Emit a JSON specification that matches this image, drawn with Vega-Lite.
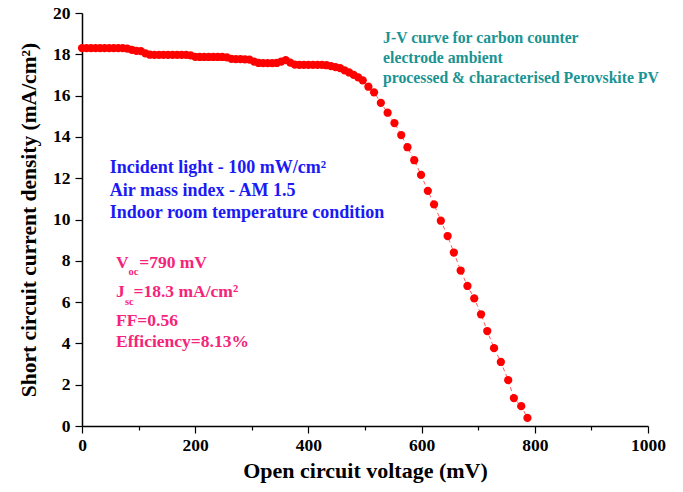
{
  "$schema": "https://vega.github.io/schema/vega-lite/v6.json",
  "autosize": {"type": "none"},
  "padding": {"left": 82, "top": 13, "right": 35, "bottom": 66},
  "width": 566,
  "height": 413,
  "background": "white",
  "config": {
    "view": {"stroke": null},
    "font": "Liberation Serif"
  },
  "datasets": {
    "jv": [
      {"v": 0, "j": 18.3}, {"v": 8, "j": 18.3}, {"v": 16, "j": 18.3}, {"v": 24, "j": 18.3},
      {"v": 32, "j": 18.3}, {"v": 40, "j": 18.3}, {"v": 48, "j": 18.3}, {"v": 56, "j": 18.3},
      {"v": 64, "j": 18.3}, {"v": 72, "j": 18.3}, {"v": 80, "j": 18.28}, {"v": 88, "j": 18.22},
      {"v": 96, "j": 18.17}, {"v": 104, "j": 18.15}, {"v": 112, "j": 18.05}, {"v": 120, "j": 17.98},
      {"v": 128, "j": 17.97}, {"v": 136, "j": 17.97}, {"v": 144, "j": 17.97}, {"v": 152, "j": 17.97},
      {"v": 160, "j": 17.97}, {"v": 168, "j": 17.97}, {"v": 176, "j": 17.97}, {"v": 184, "j": 17.97},
      {"v": 192, "j": 17.95}, {"v": 200, "j": 17.88}, {"v": 208, "j": 17.87}, {"v": 216, "j": 17.87},
      {"v": 224, "j": 17.87}, {"v": 232, "j": 17.87}, {"v": 240, "j": 17.87}, {"v": 248, "j": 17.87},
      {"v": 256, "j": 17.85}, {"v": 264, "j": 17.78}, {"v": 272, "j": 17.77}, {"v": 280, "j": 17.77},
      {"v": 288, "j": 17.76}, {"v": 296, "j": 17.74}, {"v": 304, "j": 17.65}, {"v": 312, "j": 17.58},
      {"v": 320, "j": 17.57}, {"v": 328, "j": 17.57}, {"v": 336, "j": 17.57}, {"v": 344, "j": 17.58},
      {"v": 352, "j": 17.65}, {"v": 360, "j": 17.72}, {"v": 368, "j": 17.6}, {"v": 376, "j": 17.5},
      {"v": 384, "j": 17.49}, {"v": 392, "j": 17.49}, {"v": 400, "j": 17.49}, {"v": 408, "j": 17.49},
      {"v": 416, "j": 17.49}, {"v": 424, "j": 17.49}, {"v": 432, "j": 17.47}, {"v": 440, "j": 17.43},
      {"v": 448, "j": 17.38}, {"v": 456, "j": 17.33}, {"v": 464, "j": 17.22}, {"v": 472, "j": 17.12},
      {"v": 480, "j": 17.0}, {"v": 488, "j": 16.88}, {"v": 496, "j": 16.74}, {"v": 506, "j": 16.43},
      {"v": 516, "j": 16.16}, {"v": 528, "j": 15.65}, {"v": 540, "j": 15.17}, {"v": 552, "j": 14.67},
      {"v": 564, "j": 14.09}, {"v": 575, "j": 13.5}, {"v": 587, "j": 12.87}, {"v": 599, "j": 12.16},
      {"v": 611, "j": 11.39}, {"v": 622, "j": 10.73}, {"v": 634, "j": 9.94}, {"v": 646, "j": 9.2},
      {"v": 657, "j": 8.4}, {"v": 669, "j": 7.53}, {"v": 681, "j": 6.78}, {"v": 693, "j": 6.18},
      {"v": 705, "j": 5.41}, {"v": 716, "j": 4.6}, {"v": 728, "j": 3.77}, {"v": 740, "j": 3.1},
      {"v": 753, "j": 2.22}, {"v": 763, "j": 1.35}, {"v": 776, "j": 0.96}, {"v": 787, "j": 0.39}
    ],
    "teal": [
      {"x": 532, "y": 18.8, "t": "J-V curve for carbon counter"},
      {"x": 532, "y": 17.8, "t": "electrode ambient"},
      {"x": 532, "y": 16.87, "t": "processed & characterised Perovskite PV"}
    ],
    "blue": [
      {"x": 49, "y": 12.5, "t": "Incident light - 100 mW/cm²"},
      {"x": 49, "y": 11.4, "t": "Air mass index - AM 1.5"},
      {"x": 49, "y": 10.3, "t": "Indoor room temperature condition"}
    ],
    "pink": [
      {"x": 60, "y": 7.9, "t": "V"},
      {"x": 101, "y": 7.9, "t": "=790 mV"},
      {"x": 60, "y": 6.5, "t": "J"},
      {"x": 91, "y": 6.5, "t": "=18.3 mA/cm²"},
      {"x": 60, "y": 5.1, "t": "FF=0.56"},
      {"x": 60, "y": 4.05, "t": "Efficiency=8.13%"}
    ],
    "pinksub": [
      {"x": 82, "y": 7.45, "t": "oc"},
      {"x": 76, "y": 6.0, "t": "sc"}
    ]
  },
  "layer": [
    {
      "data": {"name": "jv"},
      "mark": {"type": "line", "color": "#ff5a5a", "strokeWidth": 1, "strokeDash": [4, 3]},
      "encoding": {
        "x": {
          "field": "v", "type": "quantitative",
          "scale": {"domain": [0, 1000], "nice": false, "zero": false},
          "axis": {
            "title": "Open circuit voltage (mV)",
            "values": [0, 100, 200, 300, 400, 500, 600, 700, 800, 900, 1000],
            "format": "d",
            "labelExpr": "datum.value % 200 === 0 ? datum.label : ''",
            "grid": false,
            "domainColor": "black", "domainWidth": 1.5,
            "tickColor": "black", "tickWidth": 1.2,
            "tickSize": {"condition": {"test": "datum.value % 200 === 0", "value": 7}, "value": 4},
            "labelFont": "Liberation Serif", "labelFontWeight": "bold", "labelFontSize": 17.5,
            "labelColor": "black", "labelPadding": 3, "labelFlush": false, "labelOverlap": false,
            "titleFont": "Liberation Serif", "titleFontWeight": "bold", "titleFontSize": 22,
            "titleColor": "black", "titlePadding": 7
          }
        },
        "y": {
          "field": "j", "type": "quantitative",
          "scale": {"domain": [0, 20], "nice": false, "zero": false},
          "axis": {
            "title": "Short circuit current density (mA/cm²)",
            "values": [0, 1, 2, 3, 4, 5, 6, 7, 8, 9, 10, 11, 12, 13, 14, 15, 16, 17, 18, 19, 20],
            "labelExpr": "datum.value % 2 === 0 ? datum.label : ''",
            "grid": false,
            "domainColor": "black", "domainWidth": 1.5,
            "tickColor": "black", "tickWidth": 1.2,
            "tickSize": {"condition": {"test": "datum.value % 2 === 0", "value": 7}, "value": 4},
            "labelFont": "Liberation Serif", "labelFontWeight": "bold", "labelFontSize": 17.5,
            "labelColor": "black", "labelPadding": 5, "labelFlush": false, "labelOverlap": false,
            "titleFont": "Liberation Serif", "titleFontWeight": "bold", "titleFontSize": 21.5,
            "titleColor": "black", "titlePadding": 12
          }
        }
      }
    },
    {
      "data": {"name": "jv"},
      "mark": {"type": "circle", "color": "#ff0000", "opacity": 1, "size": 68},
      "encoding": {
        "x": {"field": "v", "type": "quantitative"},
        "y": {"field": "j", "type": "quantitative"}
      }
    },
    {
      "data": {"name": "teal"},
      "mark": {"type": "text", "align": "left", "baseline": "middle", "font": "Liberation Serif", "fontWeight": "bold", "fontSize": 15.7, "color": "#1a9393"},
      "encoding": {
        "x": {"field": "x", "type": "quantitative"},
        "y": {"field": "y", "type": "quantitative"},
        "text": {"field": "t"}
      }
    },
    {
      "data": {"name": "blue"},
      "mark": {"type": "text", "align": "left", "baseline": "middle", "font": "Liberation Serif", "fontWeight": "bold", "fontSize": 18, "color": "#1a1af5"},
      "encoding": {
        "x": {"field": "x", "type": "quantitative"},
        "y": {"field": "y", "type": "quantitative"},
        "text": {"field": "t"}
      }
    },
    {
      "data": {"name": "pink"},
      "mark": {"type": "text", "align": "left", "baseline": "middle", "font": "Liberation Serif", "fontWeight": "bold", "fontSize": 17.5, "color": "#f5247a"},
      "encoding": {
        "x": {"field": "x", "type": "quantitative"},
        "y": {"field": "y", "type": "quantitative"},
        "text": {"field": "t"}
      }
    },
    {
      "data": {"name": "pinksub"},
      "mark": {"type": "text", "align": "left", "baseline": "middle", "font": "Liberation Serif", "fontWeight": "bold", "fontSize": 10.5, "color": "#f5247a"},
      "encoding": {
        "x": {"field": "x", "type": "quantitative"},
        "y": {"field": "y", "type": "quantitative"},
        "text": {"field": "t"}
      }
    }
  ]
}
